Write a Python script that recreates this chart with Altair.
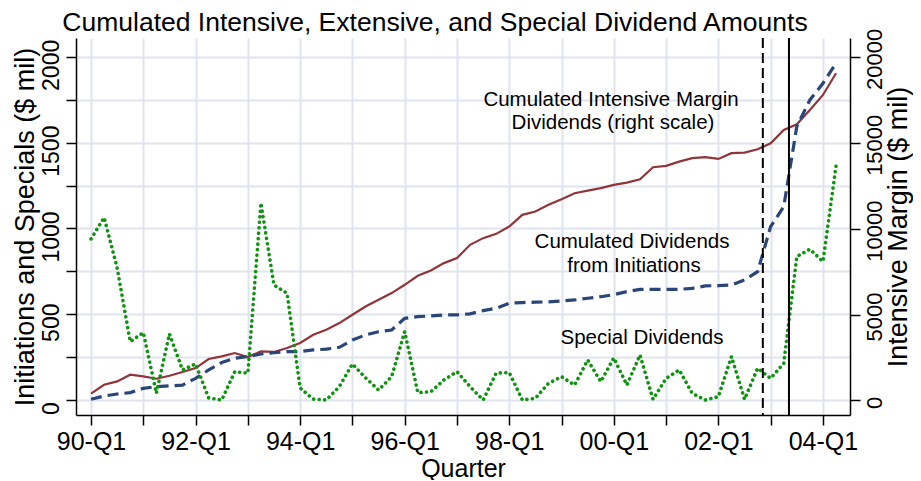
import altair as alt
import pandas as pd

# ---------------- data ----------------
quarters = list(range(58))  # 0 = 1990-Q1 ... 57 = 2004-Q2
tick_labels = ["90-Q1", "92-Q1", "94-Q1", "96-Q1", "98-Q1", "00-Q1", "02-Q1", "04-Q1"]

initiations = [4, 23, 35, 43, 68, 78, 82, 87, 126, 175, 218, 243, 253, 268, 276, 282, 282, 292, 296, 307,
               350, 379, 398, 408, 476, 486, 490, 496, 496, 502, 521, 535, 564, 568, 570, 572, 577, 583, 593, 602,
               614, 632, 645, 645, 645, 645, 651, 665, 667, 670, 700, 748, 1011, 1127, 1594, 1749, 1846, 1963]

specials = [939, 1063, 770, 340, 393, 39, 385, 175, 210, 12, 0, 165, 157, 1148, 670, 622, 70, 5, 0, 78,
            210, 130, 58, 136, 398, 43, 48, 117, 165, 78, 0, 157, 160, 0, 10, 97, 136, 87, 233, 107,
            245, 87, 262, 4, 126, 175, 39, 0, 19, 253, 4, 185, 126, 214, 836, 879, 807, 1365]

intensive = [390, 913, 1105, 1495, 1396, 1262, 1437, 1652, 1884, 2408, 2560, 2757, 2525, 2850, 2820, 3048, 3339, 3822, 4113, 4503,
             4985, 5468, 5858, 6248, 6731, 7254, 7563, 7993, 8284, 9058, 9447, 9697, 10122, 10803, 10995, 11385, 11716, 12065, 12216, 12356,
             12548, 12682, 12879, 13577, 13653, 13904, 14101, 14159, 14061, 14392, 14427, 14624, 14974, 15748, 16079, 16911, 17784, 19046]

event_dashed = [51.4]
event_solid = [53.4]

chart_title = "Cumulated Intensive, Extensive, and Special Dividend Amounts"
ann_intensive = ["Cumulated Intensive Margin", "Dividends (right scale)"]
ann_initiations = ["Cumulated Dividends", "from Initiations"]
ann_specials = ["Special Dividends"]

df = pd.DataFrame({"q": quarters, "initiations": initiations,
                   "specials": specials, "intensive": intensive})

FONT = "Liberation Sans"
GRID = "#dfe4ee"

labels_js = "[" + ",".join("'%s'" % t for t in tick_labels) + "]"
x_axis = alt.Axis(values=list(range(0, 57, 4)),
                  labelExpr="datum.value %% 8 == 0 ? %s[datum.value / 8] : ''" % labels_js,
                  title="Quarter", grid=True, gridColor=GRID, gridWidth=2,
                  domainColor="black", domainWidth=1.5, tickColor="black", tickWidth=1.5,
                  tickSize=10, labelFontSize=25, titleFontSize=25, labelFont=FONT, titleFont=FONT,
                  labelColor="black", titleColor="black", titleFontWeight="normal",
                  labelPadding=4, titlePadding=2, labelFlush=False, labelOverlap=False)
x_scale = alt.Scale(domain=[-1.15, 58.07], nice=False, zero=False)

left_axis = alt.Axis(orient="left", values=list(range(0, 2001, 250)),
                     labelExpr="datum.value % 500 == 0 ? datum.label : ''", format="d",
                     title="Initiations and Specials ($ mil)", grid=True, gridColor=GRID, gridWidth=2,
                     domainColor="black", domainWidth=1.5, tickColor="black", tickWidth=1.5, tickSize=10,
                     labelAngle=-90, labelAlign="center", labelBaseline="bottom", labelOffset=8,
                     labelFontSize=23, titleFontSize=27, labelFont=FONT, titleFont=FONT,
                     labelColor="black", titleColor="black", titleFontWeight="normal",
                     labelPadding=3, titlePadding=1, labelOverlap=False, labelFlush=False)
left_scale = alt.Scale(domain=[-87.5, 2110], nice=False, zero=False)

right_axis = alt.Axis(orient="right", values=list(range(0, 20001, 5000)), format="d",
                      title="Intensive Margin ($ mil)", grid=False,
                      domainColor="black", domainWidth=1.5, tickColor="black", tickWidth=1.5, tickSize=10,
                      labelAngle=-90, labelAlign="center", labelBaseline="top", labelOffset=2,
                      titleAngle=-90, titleBaseline="top",
                      labelFontSize=22, titleFontSize=27, labelFont=FONT, titleFont=FONT,
                      labelColor="black", titleColor="black", titleFontWeight="normal",
                      labelPadding=4, titlePadding=0, labelOverlap=False, labelFlush=False)
right_scale = alt.Scale(domain=[-850, 21100], nice=False, zero=False)

base = alt.Chart(df)

red = base.mark_line(color="#90353b", strokeWidth=2.2).encode(
    x=alt.X("q:Q", scale=x_scale, axis=x_axis),
    y=alt.Y("intensive:Q", scale=right_scale, axis=right_axis))

blue = base.mark_line(color="#2a4678", strokeWidth=3.2, strokeDash=[11, 6]).encode(
    x=alt.X("q:Q", scale=x_scale, axis=x_axis),
    y=alt.Y("initiations:Q", scale=left_scale, axis=left_axis))

green = base.mark_line(color="#129212", strokeWidth=3.6, strokeDash=[0.1, 5.4], strokeCap="round").encode(
    x=alt.X("q:Q", scale=x_scale, axis=x_axis),
    y=alt.Y("specials:Q", scale=left_scale, axis=left_axis))

rule_dash = alt.Chart(pd.DataFrame({"x": event_dashed})).mark_rule(
    color="black", strokeWidth=2, strokeDash=[10, 5]).encode(
    x=alt.X("x:Q", scale=x_scale, axis=x_axis))
rule_solid = alt.Chart(pd.DataFrame({"x": event_solid})).mark_rule(
    color="black", strokeWidth=2).encode(
    x=alt.X("x:Q", scale=x_scale, axis=x_axis))


def text_line(s, px, py, size=20.5):
    return alt.Chart(pd.DataFrame({"t": [s]})).mark_text(
        font=FONT, fontSize=size, color="black", align="center", baseline="middle").encode(
        text="t:N", x=alt.value(px), y=alt.value(py))


texts = [
    text_line(chart_title, 359, -15, 26.5),
    text_line(ann_intensive[0], 535, 62),
    text_line(ann_intensive[1], 537, 85),
    text_line(ann_initiations[0], 556, 204),
    text_line(ann_initiations[1], 558, 228),
    text_line(ann_specials[0], 566, 300),
]

left_group = alt.layer(blue, green, rule_dash, rule_solid, *texts)

chart = alt.layer(red, left_group).resolve_scale(y="independent").properties(
    width=774, height=377,
    padding={"left": 68, "top": 30, "right": 63, "bottom": 65},
    autosize=alt.AutoSizeParams(type="none"),
    background="white",
).configure_view(stroke=None)

chart.save("out.html", embed_options={"renderer": "svg", "actions": False})
